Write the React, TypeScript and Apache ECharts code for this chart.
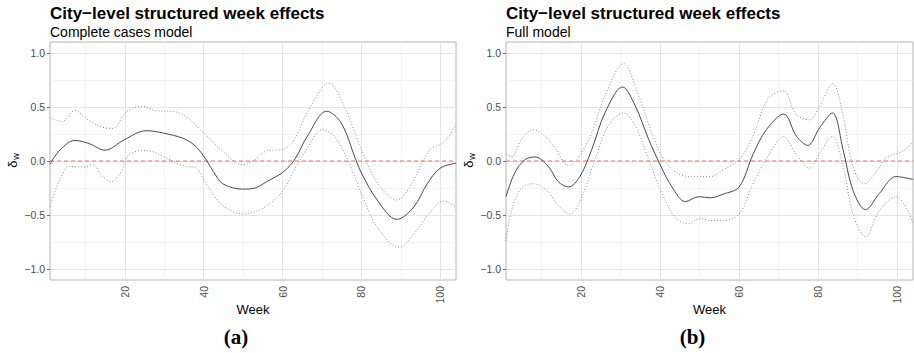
import React, { useEffect, useRef } from "react";
import * as echarts from "echarts";

// ---- Data ----
const panelTitles = ["City−level structured week effects", "City−level structured week effects"];
const panelSubtitles = ["Complete cases model", "Full model"];
const panelTags = ["(a)", "(b)"];
const xAxisTitle = "Week";

const weekRange = [1, 104];
const xMajorTicks = [20, 40, 60, 80, 100];
const xMinorTicks = [10, 30, 50, 70, 90];
const yMajorTicks = [-1, -0.5, 0, 0.5, 1];
const yMinorTicks = [-0.75, -0.25, 0.25, 0.75];
const referenceValue = 0;

// Panel (a): complete cases model
const weeksMeanA = [1, 3.5, 7.3, 11, 14.9, 20, 25.4, 30, 34.7, 37.5, 40, 42.5, 44.8, 50, 53, 56, 60, 63, 66.3, 71.2, 74.8, 78.6, 80, 84, 89, 93.3, 96.7, 100, 104];
const meanA = [-0.03, 0.1, 0.19, 0.16, 0.1, 0.2, 0.28, 0.256, 0.21, 0.15, 0.045, -0.1, -0.21, -0.26, -0.25, -0.19, -0.106, 0.01, 0.23, 0.46, 0.356, 0.01, -0.11, -0.36, -0.54, -0.425, -0.21, -0.066, -0.02];
const weeksUpperA = [1, 4, 7.3, 10.3, 13.6, 17, 20.2, 24.2, 28, 32.6, 35.6, 40, 44.8, 49.9, 53, 56.2, 60, 63, 66.3, 71.8, 75.6, 80, 84, 89, 92.3, 97.4, 100.9, 104];
const upperA = [0.4, 0.366, 0.466, 0.39, 0.32, 0.3, 0.45, 0.506, 0.466, 0.456, 0.41, 0.26, 0.09, -0.034, 0.0125, 0.097, 0.106, 0.2, 0.45, 0.72, 0.51, 0.106, -0.2, -0.36, -0.24, 0.106, 0.17, 0.34];
const weeksLowerA = [1, 3.5, 6, 9.4, 12, 14, 16.6, 19, 21.1, 25.4, 29.7, 33, 35.6, 38.1, 40.6, 44.8, 49.9, 53, 56.2, 60, 63, 66.3, 70.1, 73.1, 76.5, 80, 84, 89.5, 93.3, 97.5, 100.9, 104];
const lowerA = [-0.42, -0.175, -0.05, -0.056, -0.034, -0.13, -0.19, -0.1, 0.06, 0.097, 0.044, -0.02, -0.05, -0.066, -0.21, -0.41, -0.49, -0.47, -0.41, -0.28, -0.08, 0.12, 0.29, 0.23, 0.01, -0.3, -0.61, -0.8, -0.675, -0.47, -0.37, -0.425];

// Panel (b): full model
const weeksMeanB = [1, 3.2, 5.8, 8.3, 11.7, 14.2, 16.8, 19.7, 22.7, 26.1, 30.5, 33.7, 37.1, 40, 43, 46.4, 49.8, 52.7, 56, 60, 63.5, 66.9, 71.3, 74.5, 77.4, 80.4, 83.6, 86.3, 88.8, 92, 95.5, 99.7, 104];
const meanB = [-0.33, -0.11, 0.0125, 0.0375, -0.05, -0.19, -0.24, -0.144, 0.106, 0.45, 0.684, 0.51, 0.2, -0.034, -0.24, -0.375, -0.33, -0.34, -0.306, -0.24, 0.06, 0.29, 0.434, 0.23, 0.144, 0.31, 0.444, 0.106, -0.27, -0.45, -0.3, -0.144, -0.17];
const weeksUpperB = [1, 2.4, 4.9, 7.9, 10.8, 13.4, 16.8, 19.3, 22.7, 26.1, 30.7, 34.5, 37.9, 40.5, 43.8, 48, 52.7, 56, 60, 63.5, 67.3, 71.1, 74.5, 77.9, 80.4, 83.7, 86.3, 88.8, 91.7, 94.7, 97.2, 101.4, 104];
const upperB = [0.06, 0.04, 0.2, 0.29, 0.23, 0.12, -0.044, 0.03, 0.26, 0.61, 0.9, 0.61, 0.26, 0.044, -0.1, -0.144, -0.144, -0.08, 0.0125, 0.23, 0.575, 0.65, 0.43, 0.38, 0.51, 0.715, 0.42, -0.05, -0.21, -0.1, 0.03, 0.09, 0.18];
const weeksLowerB = [1, 2.4, 4.9, 7.9, 11.3, 14.2, 17.2, 20.2, 23.5, 26.9, 30.7, 33.7, 37.1, 40.5, 43.8, 47.2, 50, 52.7, 56, 60, 63.5, 67.3, 71.3, 74.5, 77.7, 80.4, 83.6, 86.3, 88.8, 92, 95.5, 99.7, 104];
const lowerB = [-0.74, -0.46, -0.25, -0.21, -0.27, -0.41, -0.49, -0.33, 0.0125, 0.325, 0.444, 0.325, 0.0125, -0.3, -0.52, -0.58, -0.53, -0.55, -0.55, -0.49, -0.21, 0.044, 0.225, 0.06, -0.066, 0.075, 0.23, -0.05, -0.49, -0.7, -0.46, -0.33, -0.566];

const FONT = "'Liberation Sans', Arial, Helvetica, sans-serif";
const zip = (xs: number[], ys: number[]) => xs.map((x, i) => [x, ys[i]]);
const fmt = (v: number) => (v < 0 ? "−" : "") + Math.abs(v).toFixed(1);

const GRID_TOP = 42;
const GRID_H = 238;
const grids = [
  { left: 50, width: 406 },
  { left: 506, width: 407 },
];

export default function App() {
  const ref = useRef<HTMLDivElement>(null);
  useEffect(() => {
    document.body.style.margin = "0";
    if (!ref.current) return;
    const chart = echarts.init(ref.current, undefined, { renderer: "svg" });

    const panels = [
      { mean: zip(weeksMeanA, meanA), upper: zip(weeksUpperA, upperA), lower: zip(weeksLowerA, lowerA) },
      { mean: zip(weeksMeanB, meanB), upper: zip(weeksUpperB, upperB), lower: zip(weeksLowerB, lowerB) },
    ];

    const series: any[] = [];
    panels.forEach((p, i) => {
      const base = { type: "line", xAxisIndex: i, yAxisIndex: i, data: [], silent: true };
      const markBase = { silent: true, symbol: ["none", "none"], label: { show: false } };
      series.push({
        ...base,
        z: 1,
        markLine: {
          ...markBase,
          z: 1,
          lineStyle: { color: "#ededed", width: 0.6, type: "solid" },
          data: [...xMinorTicks.map((v) => ({ xAxis: v })), ...yMinorTicks.map((v) => ({ yAxis: v }))],
        },
      });
      series.push({
        ...base,
        z: 1,
        markLine: {
          ...markBase,
          z: 1,
          lineStyle: { color: "#e3e3e3", width: 1, type: "solid" },
          data: [...xMajorTicks.map((v) => ({ xAxis: v })), ...yMajorTicks.map((v) => ({ yAxis: v }))],
        },
      });
      // zero reference line as a plain line series
      series.push({
        type: "line",
        xAxisIndex: i,
        yAxisIndex: i,
        silent: true,
        showSymbol: false,
        symbol: "none",
        z: 2,
        color: "#ee5f5f",
        data: weekRange.map((w) => [w, referenceValue]),
        lineStyle: { color: "#ee5f5f", width: 0.9, type: [4, 3], opacity: 1 },
      });
      const common = { type: "line", xAxisIndex: i, yAxisIndex: i, showSymbol: false, symbol: "none", smooth: 0.35, z: 3 };
      series.push({ ...common, data: p.upper, color: "#8a8a8a", lineStyle: { color: "#8a8a8a", width: 1, type: [1, 2] } });
      series.push({ ...common, data: p.lower, color: "#8a8a8a", lineStyle: { color: "#8a8a8a", width: 1, type: [1, 2] } });
      series.push({ ...common, data: p.mean, color: "#333333", lineStyle: { color: "#333333", width: 0.9, type: "solid" } });
    });

    const graphic: any[] = [];
    grids.forEach((g, i) => {
      const cx = g.left + g.width / 2;
      graphic.push({
        type: "text",
        x: g.left,
        y: 13,
        style: { text: panelTitles[i], font: `bold 17px ${FONT}`, fill: "#000", verticalAlign: "middle", align: "left" },
      });
      graphic.push({
        type: "text",
        x: g.left,
        y: 31.5,
        style: { text: panelSubtitles[i], font: `14px ${FONT}`, fill: "#000", verticalAlign: "middle", align: "left" },
      });
      graphic.push({
        type: "text",
        x: cx,
        y: 309,
        style: { text: xAxisTitle, font: `13px ${FONT}`, fill: "#000", verticalAlign: "middle", align: "center" },
      });
      graphic.push({
        type: "text",
        x: cx - 17,
        y: 337,
        style: { text: panelTags[i], font: `bold 21px 'Liberation Serif', 'Times New Roman', serif`, fill: "#000", verticalAlign: "middle", align: "center" },
      });
      const yx = g.left - 38;
      graphic.push({
        type: "group",
        x: yx,
        y: GRID_TOP + GRID_H / 2,
        rotation: Math.PI / 2,
        children: [
          { type: "text", x: -3, y: 0, style: { text: "δ", font: `13px ${FONT}`, fill: "#000", verticalAlign: "middle", align: "center" } },
          { type: "text", x: 4.5, y: 3.5, style: { text: "w", font: `9px ${FONT}`, fill: "#000", verticalAlign: "middle", align: "center" } },
        ],
      });
    });

    chart.setOption({
      animation: false,
      backgroundColor: "#ffffff",
      textStyle: { fontFamily: FONT },
      grid: grids.map((g) => ({
        left: g.left,
        width: g.width,
        top: GRID_TOP,
        height: GRID_H,
        show: true,
        borderColor: "#b3b3b3",
        borderWidth: 1,
        backgroundColor: "transparent",
        containLabel: false,
        outerBoundsMode: "none",
      })),
      xAxis: grids.map((_, i) => ({
        type: "value",
        gridIndex: i,
        min: weekRange[0],
        max: weekRange[1],
        axisLine: { show: false },
        splitLine: { show: false },
        axisTick: { show: true, length: 3, lineStyle: { color: "#4d4d4d", width: 0.8 }, customValues: xMajorTicks },
        axisLabel: { show: true, rotate: 90, margin: 6, color: "#4d4d4d", fontSize: 10.5, fontFamily: FONT, customValues: xMajorTicks, formatter: (v: number) => String(v) },
      })),
      yAxis: grids.map((_, i) => ({
        type: "value",
        gridIndex: i,
        min: -1.1,
        max: 1.1,
        axisLine: { show: false },
        splitLine: { show: false },
        axisTick: { show: true, length: 3, lineStyle: { color: "#4d4d4d", width: 0.8 }, customValues: yMajorTicks },
        axisLabel: { show: true, margin: 5, color: "#4d4d4d", fontSize: 10.5, fontFamily: FONT, customValues: yMajorTicks, formatter: (v: number) => fmt(v) },
      })),
      series,
      graphic,
    });

    return () => chart.dispose();
  }, []);

  return <div ref={ref} style={{ width: 914, height: 353 }} />;
}
